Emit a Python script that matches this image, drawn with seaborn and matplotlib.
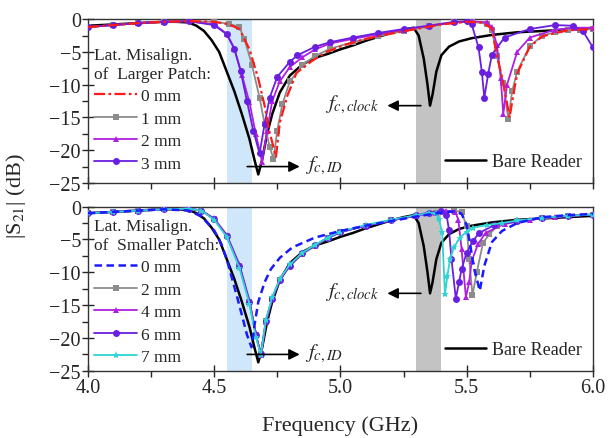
import matplotlib
matplotlib.use("Agg")
import matplotlib.pyplot as plt
from matplotlib.ticker import MultipleLocator
import seaborn as sns
import pandas as pd

sns.set_style("ticks")
plt.rcParams["font.family"] = ["Liberation Serif", "DejaVu Serif"]
plt.rcParams["mathtext.fontset"] = "stix"

# ---------------- data ----------------
bare_f = [4.0, 4.1, 4.2, 4.3, 4.35, 4.4, 4.43, 4.46, 4.49, 4.52, 4.55, 4.58, 4.61, 4.64, 4.66,
          4.675, 4.69, 4.71, 4.73, 4.76, 4.8, 4.85, 4.9, 4.95, 5.0, 5.05, 5.1, 5.15, 5.2, 5.25,
          5.29, 5.31, 5.33, 5.345, 5.355, 5.365, 5.38, 5.4, 5.43, 5.47, 5.52, 5.6, 5.7, 5.8, 5.9, 6.0]
bare_db = [-1.0, -0.8, -0.6, -0.4, -0.4, -0.5, -1.0, -1.8, -3.2, -5.0, -8.0, -11.0, -14.5, -18.3, -21.5,
           -23.7, -21.5, -17.5, -14.5, -11.2, -8.6, -6.9, -5.9, -5.3, -4.6, -4.0, -3.3, -2.7, -2.1, -1.6,
           -1.3, -2.5, -6.0, -10.0, -13.2, -11.5, -8.0, -5.5, -4.2, -3.4, -2.9, -2.4, -2.0, -1.8, -1.6, -1.4]

# Top panel: lateral misalignment of larger patch
L0_f = [4.0, 4.1, 4.2, 4.3, 4.4, 4.5, 4.56, 4.6, 4.64, 4.675, 4.7, 4.72, 4.745, 4.76, 4.79, 4.826,
        4.89, 4.95, 5.02, 5.1, 5.2, 5.3, 5.4, 5.5, 5.56, 5.6, 5.62, 5.645, 5.67, 5.685, 5.7, 5.75,
        5.8, 5.9, 6.0]
L0_db = [-1.2, -0.9, -0.6, -0.4, -0.3, -0.4, -0.8, -1.5, -4.6, -9.1, -13.2, -17.3, -21.0, -15.8, -11.7, -8.2,
         -6.3, -4.9, -3.9, -3.0, -2.2, -1.5, -0.8, -0.4, -0.5, -1.4, -5.6, -9.7, -15.0, -11.5, -8.3, -4.2,
         -2.6, -1.7, -1.5]
L1_f = [4.0, 4.1, 4.2, 4.3, 4.4, 4.5, 4.56, 4.6, 4.62, 4.65, 4.68, 4.7, 4.72, 4.735, 4.75, 4.77, 4.8,
        4.85, 4.9, 4.96, 5.05, 5.15, 5.25, 5.35, 5.45, 5.52, 5.58, 5.6, 5.62, 5.645, 5.665, 5.68, 5.7,
        5.75, 5.8, 5.85, 5.9, 5.95, 6.0]
L1_db = [-1.2, -0.9, -0.6, -0.4, -0.3, -0.4, -0.7, -1.2, -3.0, -7.0, -12.0, -16.0, -19.5, -21.3, -17.0, -13.0,
         -9.5, -7.0, -5.6, -4.5, -3.5, -2.6, -1.8, -1.1, -0.5, -0.4, -0.7, -1.6, -5.6, -9.7, -15.3, -11.0,
         -8.0, -4.1, -2.5, -2.0, -1.7, -1.6, -1.5]
L2_f = [4.0, 4.1, 4.2, 4.3, 4.4, 4.5, 4.55, 4.58, 4.61, 4.64, 4.665, 4.69, 4.71, 4.73, 4.76, 4.8,
        4.85, 4.9, 4.96, 5.05, 5.15, 5.25, 5.35, 5.45, 5.52, 5.58, 5.6, 5.62, 5.635, 5.645, 5.66, 5.7,
        5.75, 5.85, 5.93, 6.0]
L2_db = [-1.2, -0.9, -0.6, -0.4, -0.3, -0.8, -2.2, -4.5, -8.5, -12.7, -17.5, -21.8, -17.0, -12.5, -9.5, -7.3,
         -5.8, -4.6, -3.7, -3.0, -2.3, -1.6, -1.0, -0.5, -0.3, -0.5, -1.2, -4.0, -9.0, -14.5, -10.0, -5.0,
         -2.8, -1.6, -1.3, -1.3]
L3_f = [4.0, 4.1, 4.2, 4.3, 4.4, 4.5, 4.55, 4.58, 4.605, 4.63, 4.655, 4.68, 4.7, 4.72, 4.75, 4.8,
        4.83, 4.9, 4.96, 5.05, 5.15, 5.25, 5.35, 5.45, 5.5, 5.52, 5.547, 5.56, 5.57, 5.585, 5.6, 5.65,
        5.75, 5.85, 5.92, 5.96, 6.0]
L3_db = [-1.2, -0.9, -0.6, -0.4, -0.3, -0.9, -2.3, -4.5, -7.9, -12.5, -17.0, -20.5, -16.0, -12.0, -8.8, -6.5,
         -5.5, -4.2, -3.5, -2.8, -2.1, -1.5, -1.0, -0.4, -0.3, -0.8, -4.3, -8.0, -12.0, -8.4, -5.4, -2.8,
         -1.5, -0.9, -1.0, -1.8, -4.3]

# Bottom panel: lateral misalignment of smaller patch
S0_f = [4.0, 4.1, 4.2, 4.3, 4.4, 4.45, 4.5, 4.53, 4.55, 4.57, 4.59, 4.61, 4.63, 4.648, 4.66, 4.675,
        4.7, 4.725, 4.76, 4.81, 4.9, 5.0, 5.1, 5.2, 5.3, 5.4, 5.46, 5.48, 5.5, 5.51, 5.53, 5.552, 5.57,
        5.6, 5.64, 5.7, 5.8, 5.9, 6.0]
S0_db = [-1.0, -0.8, -0.6, -0.4, -0.6, -1.5, -3.6, -5.8, -8.0, -10.8, -13.6, -16.5, -19.5, -21.4, -18.0, -14.5,
         -11.5, -9.5, -7.8, -6.2, -4.7, -3.7, -2.9, -2.2, -1.5, -0.9, -0.7, -1.1, -2.8, -4.9, -9.5, -12.8, -9.0,
         -5.4, -3.7, -2.5, -1.6, -1.3, -1.1]
S2_f = [4.0, 4.1, 4.2, 4.3, 4.4, 4.45, 4.5, 4.55, 4.6, 4.64, 4.665, 4.685, 4.705, 4.73, 4.76, 4.8,
        4.85, 4.9, 4.95, 5.0, 5.1, 5.2, 5.3, 5.38, 5.45, 5.48, 5.5, 5.51, 5.523, 5.54, 5.565, 5.59, 5.62,
        5.7, 5.8, 5.9, 6.0]
S2_db = [-1.0, -0.8, -0.6, -0.4, -0.3, -0.6, -1.9, -4.4, -9.0, -14.5, -19.5, -22.5, -17.4, -14.0, -11.2, -9.0,
         -7.2, -6.0, -4.8, -3.9, -2.9, -2.1, -1.4, -0.9, -0.6, -0.8, -3.0, -8.0, -13.5, -10.0, -5.5, -4.2, -3.0,
         -2.2, -1.7, -1.4, -1.2]
S4_f = [4.0, 4.1, 4.2, 4.3, 4.4, 4.45, 4.5, 4.55, 4.6, 4.64, 4.665, 4.685, 4.705, 4.73, 4.76, 4.8,
        4.85, 4.9, 4.95, 5.0, 5.1, 5.2, 5.3, 5.38, 5.42, 5.455, 5.467, 5.48, 5.497, 5.51, 5.52, 5.545,
        5.575, 5.65, 5.75, 5.85, 6.0]
S4_db = [-1.0, -0.8, -0.6, -0.4, -0.3, -0.6, -1.8, -4.3, -8.8, -14.3, -19.3, -22.6, -17.6, -14.0, -11.0, -8.8,
         -7.0, -5.9, -4.7, -3.8, -2.9, -2.1, -1.4, -0.9, -0.6, -0.8, -2.0, -6.5, -13.8, -11.5, -8.3, -5.7,
         -4.0, -2.6, -2.0, -1.6, -1.2]
S6_f = [4.0, 4.1, 4.2, 4.3, 4.4, 4.45, 4.5, 4.55, 4.6, 4.64, 4.665, 4.685, 4.705, 4.73, 4.76, 4.8,
        4.85, 4.9, 4.95, 5.0, 5.1, 5.2, 5.3, 5.35, 5.4, 5.42, 5.43, 5.44, 5.457, 5.47, 5.48, 5.5, 5.525,
        5.55, 5.61, 5.7, 5.8, 5.9, 6.0]
S6_db = [-1.0, -0.8, -0.6, -0.4, -0.3, -0.6, -1.9, -4.4, -9.0, -14.5, -19.5, -22.4, -17.4, -14.0, -11.2, -9.0,
         -7.1, -5.9, -4.8, -3.9, -2.9, -2.1, -1.3, -0.9, -0.7, -1.2, -3.5, -8.0, -14.0, -11.5, -9.5, -7.0, -5.2,
         -4.0, -2.8, -2.2, -1.7, -1.4, -1.2]
S7_f = [4.0, 4.1, 4.2, 4.3, 4.4, 4.45, 4.5, 4.55, 4.6, 4.64, 4.665, 4.685, 4.705, 4.73, 4.76, 4.8,
        4.85, 4.9, 4.95, 5.0, 5.1, 5.2, 5.3, 5.35, 5.38, 5.39, 5.403, 5.414, 5.424, 5.434, 5.45, 5.473,
        5.5, 5.526, 5.58, 5.64, 5.7, 5.8, 5.9, 6.0]
S7_db = [-1.0, -0.8, -0.6, -0.4, -0.3, -0.6, -2.0, -4.6, -9.3, -14.8, -19.8, -22.6, -17.2, -13.8, -11.0, -8.8,
         -7.0, -5.8, -4.7, -3.8, -2.8, -2.0, -1.3, -1.0, -1.0, -1.9, -3.9, -13.3, -10.5, -8.0, -6.2, -4.7,
         -3.8, -3.2, -2.8, -2.5, -2.1, -1.7, -1.4, -1.2]

top_labels = ["0 mm", "1 mm", "2 mm", "3 mm"]
bot_labels = ["0 mm", "2 mm", "4 mm", "6 mm", "7 mm"]
top_title = "Lat. Misalign.\nof  Larger Patch:"
bot_title = "Lat. Misalign.\nof  Smaller Patch:"
x_ticks = [4.0, 4.5, 5.0, 5.5, 6.0]
y_ticks = [0, -5, -10, -15, -20, -25]

RED = "#ff1a1a"
GRAY = "#8c8c8c"
MAG = "#b01fe0"
VIO = "#6a1ee0"
BLUE = "#1a1aff"
CYAN = "#2ed3d3"

fig = plt.figure(figsize=(6.10, 4.39), dpi=100)
ax1 = fig.add_axes([0.144, 0.581, 0.828, 0.373])
ax2 = fig.add_axes([0.144, 0.153, 0.828, 0.374])


def draw(ax, f, db, color, label, ls="-", marker=None, ms=4.5, lw=1.3, z=3):
    df = pd.DataFrame({"f": f, "db": db})
    sns.lineplot(data=df, x="f", y="db", ax=ax, color=color, label=label, linestyle=ls,
                 marker=marker, markersize=ms, markeredgewidth=0, lw=lw, sort=False,
                 estimator=None, zorder=z)


for ax in (ax1, ax2):
    ax.axvspan(4.55, 4.65, color="#cfe7f8", zorder=0, lw=0)
    ax.axvspan(5.3, 5.4, color="#c3c3c3", zorder=0, lw=0)

# top
draw(ax1, bare_f, bare_db, "black", "Bare Reader", lw=1.8, z=2)
draw(ax1, L0_f, L0_db, RED, top_labels[0], ls=(0, (5, 1.5, 1.2, 1.5)), lw=1.6, z=4)
draw(ax1, L1_f, L1_db, GRAY, top_labels[1], marker="s", ms=4.5, z=3)
draw(ax1, L2_f, L2_db, MAG, top_labels[2], marker="^", ms=5, z=3)
draw(ax1, L3_f, L3_db, VIO, top_labels[3], marker="o", ms=5, z=3)

# bottom
draw(ax2, bare_f, bare_db, "black", "Bare Reader", lw=1.8, z=2)
draw(ax2, S0_f, S0_db, BLUE, bot_labels[0], ls=(0, (3, 1.8)), lw=1.8, z=4)
draw(ax2, S2_f, S2_db, GRAY, bot_labels[1], marker="s", ms=4.5, z=3)
draw(ax2, S4_f, S4_db, MAG, bot_labels[2], marker="^", ms=5, z=3)
draw(ax2, S6_f, S6_db, VIO, bot_labels[3], marker="o", ms=5, z=3)
draw(ax2, S7_f, S7_db, CYAN, bot_labels[4], marker="*", ms=6, z=3)

for ax, title, anchor_y in ((ax1, top_title, 0.905), (ax2, bot_title, 1.005)):
    ax.set_xlim(4.0, 6.0)
    ax.set_ylim(-25, 0)
    ax.set_xticks(x_ticks)
    ax.set_yticks(y_ticks)
    ax.xaxis.set_minor_locator(MultipleLocator(0.25))
    ax.yaxis.set_minor_locator(MultipleLocator(2.5))
    ax.tick_params(axis="both", which="major", direction="inout", length=8, width=1,
                   labelsize=14.5, pad=1)
    ax.tick_params(axis="both", which="minor", direction="out", length=4, width=1)
    ax.set_xlabel("")
    ax.set_ylabel("")
    for s in ax.spines.values():
        s.set_linewidth(1.0)
        s.set_color("#333333")

    handles, labels = ax.get_legend_handles_labels()
    bare_h = handles[0]
    leg = ax.legend(handles[1:], labels[1:], title=title, loc="upper left",
                    bbox_to_anchor=(-0.012, anchor_y), frameon=False, fontsize=12.5,
                    title_fontsize=12.5, alignment="left", handlelength=2.5,
                    handletextpad=0.2, labelspacing=0.36, borderpad=0.2)
    leg.get_title().set_linespacing(1.25)
    ax.add_artist(leg)
    ax.legend([bare_h], ["Bare Reader"], loc="lower right", frameon=False, fontsize=13,
              handlelength=2.3, handletextpad=0.3, bbox_to_anchor=(1.01, -0.02))

    # annotations
    ax.annotate("", xy=(4.85, -22.5), xytext=(4.62, -22.5),
                arrowprops=dict(arrowstyle="-|>", color="black", lw=1.2, mutation_scale=16))
    ax.text(4.86, -22.2, r"$f_{c,ID}$", fontsize=15, va="center", ha="left")
    ax.annotate("", xy=(5.175, -13.2), xytext=(5.33, -13.2),
                arrowprops=dict(arrowstyle="-|>", color="black", lw=1.2, mutation_scale=16))
    ax.text(5.155, -13.0, r"$f_{c,clock}$", fontsize=15, va="center", ha="right")

ax1.tick_params(labelbottom=False)

fig.text(0.026, 0.553, "|S$_{21}$| (dB)", rotation=90, fontsize=16, va="center", ha="center")
fig.text(0.558, 0.03, "Frequency (GHz)", fontsize=16, va="center", ha="center")

fig.savefig("out.png", dpi=100)
